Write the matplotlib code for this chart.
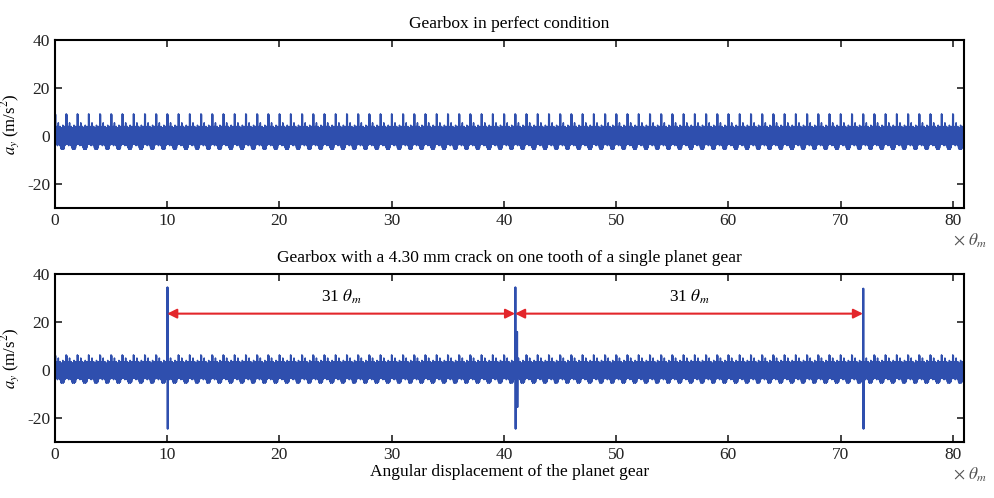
import numpy as np
import matplotlib
matplotlib.use("Agg")
import matplotlib.pyplot as plt

plt.rcParams['font.family'] = ['Liberation Serif', 'DejaVu Serif']
plt.rcParams['mathtext.fontset'] = 'stix'
plt.rcParams['axes.unicode_minus'] = False

# one mesh period (1 theta_m) of the signal:
# peak values (up) and trough values (down) of the fast oscillation
up_healthy = [9.2, 9.0, 3.5, 2.5, 4.0, 3.0, 5.5, 3.5, 3.0, 4.0,
              3.0, 3.5, 2.5, 3.0, 4.5, 3.5, 3.0, 4.0, 3.0, 3.5]
down_healthy = [-3.0, -3.5, -3.0, -3.5, -4.0, -3.5, -3.0, -3.5, -4.0, -3.5,
                -5.0, -5.5, -5.5, -5.0, -5.5, -5.5, -5.0, -4.0, -3.5, -3.0]
up_cracked = [6.3, 6.0, 3.0, 2.0, 3.5, 2.5, 5.0, 3.0, 2.5, 3.5,
              2.5, 3.0, 2.0, 2.5, 4.0, 3.0, 2.5, 3.5, 2.5, 3.0]
down_cracked = [-3.0, -3.5, -3.0, -3.5, -4.0, -3.5, -3.0, -3.5, -4.0, -3.5,
                -5.0, -5.5, -5.0, -5.0, -5.5, -5.0, -5.0, -4.0, -3.5, -3.0]
n_periods = 81

# crack impulses (theta_m, peak, trough)
crack_pos = [10, 41, 72]
crack_top = [34.5, 34.5, 34.0]
crack_bottom = [-24.5, -24.5, -24.5]
# secondary ringing just after the middle impulse
ring_pos = [41.15]
ring_top = [16.0]
ring_bottom = [-15.5]

arrow_y = 23.5
label_y = 30.5

xticks = [0, 10, 20, 30, 40, 50, 60, 70, 80]
yticks = [-20, 0, 20, 40]
blue = '#2f4fae'
red = '#e3262b'


def build(up, down):
    period = np.column_stack([up, down]).ravel()
    y = np.tile(period, n_periods)
    x = np.linspace(0, n_periods, len(y), endpoint=False)
    return x, y


x1, y1 = build(up_healthy, down_healthy)
x2, y2 = build(up_cracked, down_cracked)
for p, t, b in zip(crack_pos + ring_pos, crack_top + ring_top,
                   crack_bottom + ring_bottom):
    i = np.searchsorted(x2, p)
    y2[i] = t
    y2[i + 1] = b
    y2[i + 2] = t
    y2[i + 3] = b

fig = plt.figure(figsize=(9.94, 4.98), dpi=100)
ax1 = fig.add_axes([0.0553, 0.5823, 0.9145, 0.3373])
ax2 = fig.add_axes([0.0553, 0.1124, 0.9145, 0.3373])

ax1.plot(x1, y1, color=blue, lw=1.1)
ax2.plot(x2, y2, color=blue, lw=1.1)

for ax in (ax1, ax2):
    ax.set_xlim(0, 81)
    ax.set_ylim(-30, 40)
    ax.set_xticks(xticks)
    ax.set_yticks(yticks)
    ax.tick_params(direction='in', top=True, right=True, length=5,
                   width=1.2, labelsize=12.5, colors='#222222')
    for s in ax.spines.values():
        s.set_linewidth(1.5)
    ax.set_ylabel('$a_y$ (m/s$^2$)', fontsize=12)
    ax.yaxis.set_label_coords(-0.036, 0.5)
    ax.text(1.025, -0.195, r'$\times\ \theta_m$', transform=ax.transAxes,
            fontsize=12.5, color='#555555', ha='right', va='center')

ax1.set_title('Gearbox in perfect condition', fontsize=12.5, pad=9)
ax2.set_title('Gearbox with a 4.30 mm crack on one tooth of a single planet gear',
              fontsize=12.5, pad=9)
ax2.set_xlabel('Angular displacement of the planet gear', fontsize=12.5, labelpad=1)

for a, b in zip(crack_pos[:-1], crack_pos[1:]):
    ax2.annotate('', xy=(a, arrow_y), xytext=(b, arrow_y),
                 arrowprops=dict(arrowstyle='<|-|>', color=red, lw=1.5,
                                 mutation_scale=14, shrinkA=0, shrinkB=0))
    ax2.text((a + b) / 2, label_y, r'31 $\theta_m$', ha='center', va='center',
             fontsize=12.5)

fig.savefig('out.png', dpi=100)
